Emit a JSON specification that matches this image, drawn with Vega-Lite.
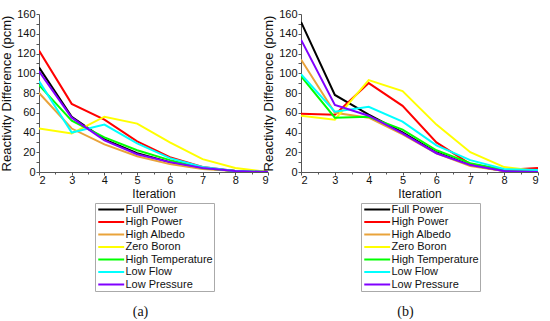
{
  "$schema": "https://vega.github.io/schema/vega-lite/v6.json",
  "padding": {"left": 0, "top": 8, "right": 2, "bottom": 0},
  "background": "white",
  "config": {
    "font": "Liberation Sans",
    "view": {"stroke": null},
    "axis": {"labelFont": "Liberation Sans", "titleFont": "Liberation Sans", "labelFontSize": 11, "titleFontSize": 12, "titleFontWeight": "normal", "domainColor": "#555", "tickColor": "#555", "labelColor": "#111", "titleColor": "#111", "grid": false},
    "legend": {"labelFont": "Liberation Sans", "labelFontSize": 11, "labelColor": "#111"},
    "title": {"font": "Liberation Serif", "fontSize": 14, "fontWeight": "normal", "color": "#111"}
  },
  "datasets": {
    "d": [
      {"p": "a", "s": "Full Power", "x": 2, "y": 106}, {"p": "a", "s": "Full Power", "x": 3, "y": 56}, {"p": "a", "s": "Full Power", "x": 4, "y": 33}, {"p": "a", "s": "Full Power", "x": 5, "y": 19}, {"p": "a", "s": "Full Power", "x": 6, "y": 10}, {"p": "a", "s": "Full Power", "x": 7, "y": 4}, {"p": "a", "s": "Full Power", "x": 8, "y": 1}, {"p": "a", "s": "Full Power", "x": 9, "y": 0},
      {"p": "a", "s": "High Power", "x": 2, "y": 123}, {"p": "a", "s": "High Power", "x": 3, "y": 69}, {"p": "a", "s": "High Power", "x": 4, "y": 53}, {"p": "a", "s": "High Power", "x": 5, "y": 31}, {"p": "a", "s": "High Power", "x": 6, "y": 15}, {"p": "a", "s": "High Power", "x": 7, "y": 5}, {"p": "a", "s": "High Power", "x": 8, "y": 1}, {"p": "a", "s": "High Power", "x": 9, "y": 0},
      {"p": "a", "s": "High Albedo", "x": 2, "y": 80}, {"p": "a", "s": "High Albedo", "x": 3, "y": 44}, {"p": "a", "s": "High Albedo", "x": 4, "y": 28}, {"p": "a", "s": "High Albedo", "x": 5, "y": 16}, {"p": "a", "s": "High Albedo", "x": 6, "y": 8}, {"p": "a", "s": "High Albedo", "x": 7, "y": 3}, {"p": "a", "s": "High Albedo", "x": 8, "y": 1}, {"p": "a", "s": "High Albedo", "x": 9, "y": 0},
      {"p": "a", "s": "Zero Boron", "x": 2, "y": 44}, {"p": "a", "s": "Zero Boron", "x": 3, "y": 39}, {"p": "a", "s": "Zero Boron", "x": 4, "y": 56}, {"p": "a", "s": "Zero Boron", "x": 5, "y": 49}, {"p": "a", "s": "Zero Boron", "x": 6, "y": 30}, {"p": "a", "s": "Zero Boron", "x": 7, "y": 13}, {"p": "a", "s": "Zero Boron", "x": 8, "y": 4}, {"p": "a", "s": "Zero Boron", "x": 9, "y": 0},
      {"p": "a", "s": "High Temperature", "x": 2, "y": 88}, {"p": "a", "s": "High Temperature", "x": 3, "y": 52}, {"p": "a", "s": "High Temperature", "x": 4, "y": 35}, {"p": "a", "s": "High Temperature", "x": 5, "y": 22}, {"p": "a", "s": "High Temperature", "x": 6, "y": 12}, {"p": "a", "s": "High Temperature", "x": 7, "y": 4}, {"p": "a", "s": "High Temperature", "x": 8, "y": 1}, {"p": "a", "s": "High Temperature", "x": 9, "y": 0},
      {"p": "a", "s": "Low Flow", "x": 2, "y": 92}, {"p": "a", "s": "Low Flow", "x": 3, "y": 40}, {"p": "a", "s": "Low Flow", "x": 4, "y": 48}, {"p": "a", "s": "Low Flow", "x": 5, "y": 29}, {"p": "a", "s": "Low Flow", "x": 6, "y": 14}, {"p": "a", "s": "Low Flow", "x": 7, "y": 5}, {"p": "a", "s": "Low Flow", "x": 8, "y": 1}, {"p": "a", "s": "Low Flow", "x": 9, "y": 0},
      {"p": "a", "s": "Low Pressure", "x": 2, "y": 102}, {"p": "a", "s": "Low Pressure", "x": 3, "y": 55}, {"p": "a", "s": "Low Pressure", "x": 4, "y": 32}, {"p": "a", "s": "Low Pressure", "x": 5, "y": 18}, {"p": "a", "s": "Low Pressure", "x": 6, "y": 10}, {"p": "a", "s": "Low Pressure", "x": 7, "y": 4}, {"p": "a", "s": "Low Pressure", "x": 8, "y": 1}, {"p": "a", "s": "Low Pressure", "x": 9, "y": 0},
      {"p": "b", "s": "Full Power", "x": 2, "y": 152}, {"p": "b", "s": "Full Power", "x": 3, "y": 78}, {"p": "b", "s": "Full Power", "x": 4, "y": 58}, {"p": "b", "s": "Full Power", "x": 5, "y": 40}, {"p": "b", "s": "Full Power", "x": 6, "y": 20}, {"p": "b", "s": "Full Power", "x": 7, "y": 7}, {"p": "b", "s": "Full Power", "x": 8, "y": 1}, {"p": "b", "s": "Full Power", "x": 9, "y": 1},
      {"p": "b", "s": "High Power", "x": 2, "y": 59}, {"p": "b", "s": "High Power", "x": 3, "y": 58}, {"p": "b", "s": "High Power", "x": 4, "y": 90}, {"p": "b", "s": "High Power", "x": 5, "y": 67}, {"p": "b", "s": "High Power", "x": 6, "y": 30}, {"p": "b", "s": "High Power", "x": 7, "y": 8}, {"p": "b", "s": "High Power", "x": 8, "y": 2}, {"p": "b", "s": "High Power", "x": 9, "y": 4},
      {"p": "b", "s": "High Albedo", "x": 2, "y": 114}, {"p": "b", "s": "High Albedo", "x": 3, "y": 60}, {"p": "b", "s": "High Albedo", "x": 4, "y": 55}, {"p": "b", "s": "High Albedo", "x": 5, "y": 38}, {"p": "b", "s": "High Albedo", "x": 6, "y": 19}, {"p": "b", "s": "High Albedo", "x": 7, "y": 6}, {"p": "b", "s": "High Albedo", "x": 8, "y": 1}, {"p": "b", "s": "High Albedo", "x": 9, "y": 1},
      {"p": "b", "s": "Zero Boron", "x": 2, "y": 57}, {"p": "b", "s": "Zero Boron", "x": 3, "y": 53}, {"p": "b", "s": "Zero Boron", "x": 4, "y": 93}, {"p": "b", "s": "Zero Boron", "x": 5, "y": 82}, {"p": "b", "s": "Zero Boron", "x": 6, "y": 48}, {"p": "b", "s": "Zero Boron", "x": 7, "y": 20}, {"p": "b", "s": "Zero Boron", "x": 8, "y": 5}, {"p": "b", "s": "Zero Boron", "x": 9, "y": 1},
      {"p": "b", "s": "High Temperature", "x": 2, "y": 97}, {"p": "b", "s": "High Temperature", "x": 3, "y": 55}, {"p": "b", "s": "High Temperature", "x": 4, "y": 56}, {"p": "b", "s": "High Temperature", "x": 5, "y": 43}, {"p": "b", "s": "High Temperature", "x": 6, "y": 22}, {"p": "b", "s": "High Temperature", "x": 7, "y": 9}, {"p": "b", "s": "High Temperature", "x": 8, "y": 2}, {"p": "b", "s": "High Temperature", "x": 9, "y": 1},
      {"p": "b", "s": "Low Flow", "x": 2, "y": 99}, {"p": "b", "s": "Low Flow", "x": 3, "y": 61}, {"p": "b", "s": "Low Flow", "x": 4, "y": 66}, {"p": "b", "s": "Low Flow", "x": 5, "y": 51}, {"p": "b", "s": "Low Flow", "x": 6, "y": 27}, {"p": "b", "s": "Low Flow", "x": 7, "y": 12}, {"p": "b", "s": "Low Flow", "x": 8, "y": 3}, {"p": "b", "s": "Low Flow", "x": 9, "y": 2},
      {"p": "b", "s": "Low Pressure", "x": 2, "y": 134}, {"p": "b", "s": "Low Pressure", "x": 3, "y": 68}, {"p": "b", "s": "Low Pressure", "x": 4, "y": 57}, {"p": "b", "s": "Low Pressure", "x": 5, "y": 39}, {"p": "b", "s": "Low Pressure", "x": 6, "y": 19}, {"p": "b", "s": "Low Pressure", "x": 7, "y": 7}, {"p": "b", "s": "Low Pressure", "x": 8, "y": 1}, {"p": "b", "s": "Low Pressure", "x": 9, "y": 0}
    ]
  },
  "spacing": -7,
  "hconcat": [
    {
      "width": 229, "height": 158,
      "data": {"name": "d"},
      "transform": [{"filter": "datum.p === 'a'"}],
      "title": {"text": "(a)", "orient": "bottom", "anchor": "middle", "dx": -13, "offset": 13},
      "mark": {"type": "line", "strokeWidth": 2, "clip": true},
      "encoding": {
        "x": {"field": "x", "type": "quantitative", "scale": {"domain": [2, 9], "nice": false},
          "axis": {"title": "Iteration", "values": [2, 2.5, 3, 3.5, 4, 4.5, 5, 5.5, 6, 6.5, 7, 7.5, 8, 8.5, 9], "labelExpr": "datum.value % 1 ? '' : format(datum.value, 'd')", "tickSize": {"condition": {"test": "datum.value % 1", "value": 2}, "value": 3}, "labelPadding": -1, "titlePadding": 3}},
        "y": {"field": "y", "type": "quantitative", "scale": {"domain": [0, 160], "nice": false},
          "axis": {"title": "Reactivity Difference (pcm)", "values": [0, 10, 20, 30, 40, 50, 60, 70, 80, 90, 100, 110, 120, 130, 140, 150, 160], "tickSize": 3, "labelPadding": 1, "titleFontSize": 13, "titlePadding": 3, "labelFlush": false}},
        "color": {"field": "s", "type": "nominal", "sort": ["Full Power", "High Power", "High Albedo", "Zero Boron", "High Temperature", "Low Flow", "Low Pressure"],
          "scale": {"domain": ["Full Power", "High Power", "High Albedo", "Zero Boron", "High Temperature", "Low Flow", "Low Pressure"], "range": ["#000000", "#ff0000", "#e9a33a", "#ffff00", "#00ff00", "#00ffff", "#8000ff"]},
          "legend": {"title": null, "orient": "none", "legendX": 56, "legendY": 189, "symbolType": "M-1,0H7", "symbolStrokeWidth": 2, "symbolSize": 42, "strokeColor": "#aaa", "padding": 1, "rowPadding": 0.5, "labelOffset": 18.5}}
      }
    },
    {
      "width": 237, "height": 158,
      "data": {"name": "d"},
      "transform": [{"filter": "datum.p === 'b'"}],
      "title": {"text": "(b)", "orient": "bottom", "anchor": "middle", "dx": -14, "offset": 13},
      "mark": {"type": "line", "strokeWidth": 2, "clip": true},
      "encoding": {
        "x": {"field": "x", "type": "quantitative", "scale": {"domain": [2, 9], "nice": false},
          "axis": {"title": "Iteration", "values": [2, 2.5, 3, 3.5, 4, 4.5, 5, 5.5, 6, 6.5, 7, 7.5, 8, 8.5, 9], "labelExpr": "datum.value % 1 ? '' : format(datum.value, 'd')", "tickSize": {"condition": {"test": "datum.value % 1", "value": 2}, "value": 3}, "labelPadding": -1, "titlePadding": 3}},
        "y": {"field": "y", "type": "quantitative", "scale": {"domain": [0, 160], "nice": false},
          "axis": {"title": "Reactivity Difference (pcm)", "values": [0, 10, 20, 30, 40, 50, 60, 70, 80, 90, 100, 110, 120, 130, 140, 150, 160], "tickSize": 3, "labelPadding": 1, "titleFontSize": 13, "titlePadding": 3, "labelFlush": false}},
        "color": {"field": "s", "type": "nominal", "sort": ["Full Power", "High Power", "High Albedo", "Zero Boron", "High Temperature", "Low Flow", "Low Pressure"],
          "scale": {"domain": ["Full Power", "High Power", "High Albedo", "Zero Boron", "High Temperature", "Low Flow", "Low Pressure"], "range": ["#000000", "#ff0000", "#e9a33a", "#ffff00", "#00ff00", "#00ffff", "#8000ff"]},
          "legend": {"title": null, "orient": "none", "legendX": 60, "legendY": 189, "symbolType": "M-1,0H7", "symbolStrokeWidth": 2, "symbolSize": 42, "strokeColor": "#aaa", "padding": 1, "rowPadding": 0.5, "labelOffset": 18.5}}
      }
    }
  ],
  "resolve": {"scale": {"color": "independent"}, "legend": {"color": "independent"}}
}
